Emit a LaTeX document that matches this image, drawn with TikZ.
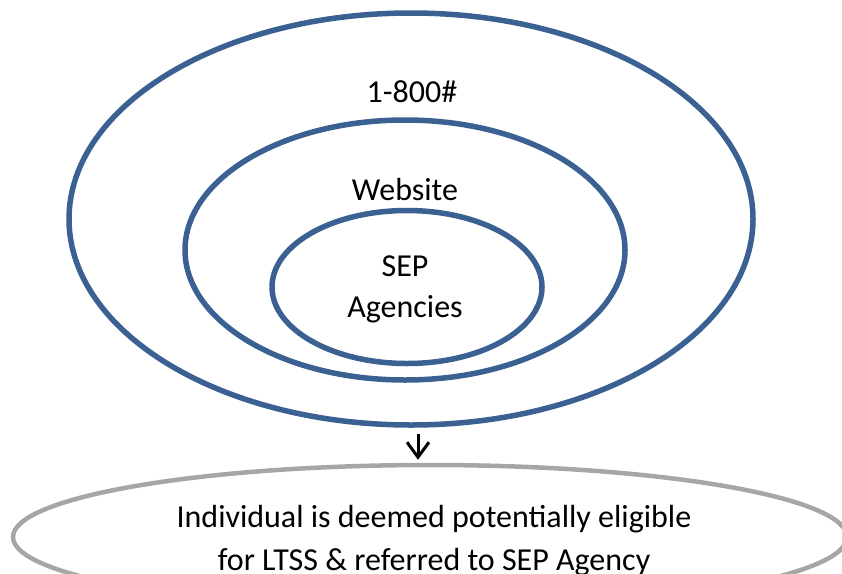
\documentclass[tikz,border=0pt]{standalone}
\usepackage{fontspec}
\setmainfont{Carlito}
\usetikzlibrary{shapes.geometric,arrows.meta}
\definecolor{ringblue}{HTML}{3A6192}
\definecolor{ringgray}{HTML}{A6A6A6}
\begin{document}
\begin{tikzpicture}[x=1pt,y=-1pt,
    ring/.style={ellipse, draw=ringblue, line width=5.5pt, inner sep=0pt},
    lbl/.style={font=\fontsize{32}{41}\selectfont, align=center, inner sep=0pt}]
    \useasboundingbox (0,0) rectangle (842,573);
    \clip (0,0) rectangle (842,573);
    % nested contact rings
    \node[ring, minimum width=684pt, minimum height=412pt] (outer) at (411,219) {};
    \node[ring, minimum width=440pt, minimum height=260pt] (middle) at (405,250) {};
    \node[ring, minimum width=270pt, minimum height=153pt] (inner) at (407,287) {};
    \node[lbl] (phone) at (412,92) {1-800\#};
    \node[lbl] (web) at (405,190) {Website};
    \node[lbl] (sep) at (405,289) {SEP\\Agencies};
    % outcome
    \node[ellipse, draw=ringgray, line width=4.5pt, inner sep=0pt,
          minimum width=834pt, minimum height=144pt] (outcome) at (430,537) {};
    \node[lbl, font=\fontsize{32}{43}\selectfont] (elig) at (434,541)
        {Individual is deemed potentially eligible\\for LTSS \& referred to SEP Agency};
    \draw[-{Straight Barb[length=15pt,width=22pt]}, line width=3pt, shorten >=3pt]
        ([xshift=7pt,yshift=-6pt]outer.south) -- ([xshift=-12pt]outcome.north);
\end{tikzpicture}
\end{document}
